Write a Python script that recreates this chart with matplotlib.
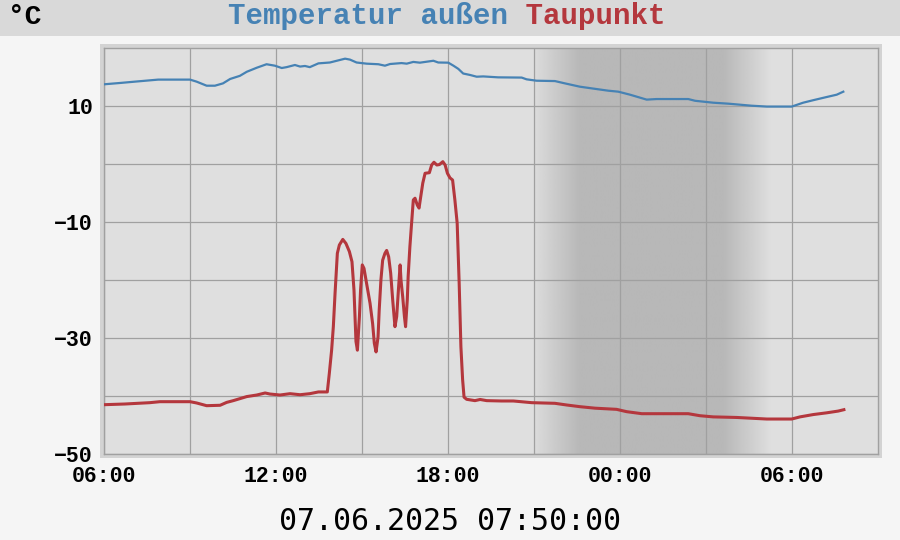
import numpy as np
import matplotlib
matplotlib.use('Agg')
import matplotlib.pyplot as plt
from matplotlib.patches import Rectangle

# Data (hours since 06:00 on 06.06.2025) #
temp_hours = [0.00, 0.56, 1.08, 1.89, 3.00, 3.23, 3.58, 3.87, 4.15, 4.40,
              4.74, 4.98, 5.33, 5.67, 5.96, 6.20, 6.37, 6.66, 6.84, 7.01,
              7.18, 7.48, 7.88, 8.12, 8.41, 8.58, 8.81, 9.16, 9.57, 9.80,
              9.98, 10.38, 10.56, 10.79, 11.02, 11.49, 11.66, 12.01, 12.19, 12.36,
              12.53, 12.77, 13.00, 13.23, 13.75, 14.57, 14.74, 15.09, 15.73, 16.08,
              16.60, 17.07, 17.59, 17.94, 18.35, 18.93, 19.28, 20.38, 20.62, 21.25,
              21.78, 22.59, 23.12, 23.99, 24.39, 24.74, 25.21, 25.56, 25.79]
temp_out = [13.74, 13.97, 14.2, 14.55, 14.55, 14.2, 13.5, 13.5, 13.9, 14.66,
            15.2, 15.9, 16.6, 17.2, 16.95, 16.55, 16.7, 17.07, 16.8, 16.9,
            16.7, 17.35, 17.5, 17.8, 18.16, 18.0, 17.5, 17.3, 17.2, 16.95,
            17.24, 17.4, 17.3, 17.6, 17.47, 17.8, 17.5, 17.47, 16.95, 16.4,
            15.6, 15.35, 15.05, 15.1, 14.94, 14.9, 14.6, 14.36, 14.3, 13.9,
            13.33, 13.0, 12.64, 12.47, 11.95, 11.1, 11.2, 11.2, 10.9, 10.57,
            10.4, 10.05, 9.9, 9.9, 10.57, 11.0, 11.55, 11.95, 12.47]

dew_hours = [0.00, 0.73, 1.60, 1.95, 3.00, 3.23, 3.58, 4.05, 4.28, 4.51,
             4.98, 5.33, 5.62, 5.79, 6.14, 6.49, 6.84, 7.18, 7.48, 7.79,
             7.86, 7.94, 8.00, 8.06, 8.14, 8.21, 8.33, 8.44, 8.56, 8.65,
             8.72, 8.79, 8.84, 8.91, 8.95, 9.01, 9.07, 9.16, 9.28, 9.37,
             9.43, 9.49, 9.56, 9.60, 9.66, 9.72, 9.80, 9.86, 9.93, 10.00,
             10.07, 10.15, 10.21, 10.27, 10.33, 10.36, 10.42, 10.48, 10.52, 10.58,
             10.61, 10.67, 10.73, 10.79, 10.85, 10.93, 10.99, 11.05, 11.12, 11.20,
             11.35, 11.43, 11.51, 11.61, 11.70, 11.82, 11.90, 11.98, 12.07, 12.16,
             12.24, 12.32, 12.39, 12.45, 12.51, 12.56,
             12.65, 12.94, 13.12, 13.35, 13.87, 14.28, 14.92, 15.73, 16.14, 16.60,
             17.13, 17.88, 18.23, 18.76, 20.38, 20.79, 21.25, 22.07, 23.12, 23.99,
             24.28, 24.74, 25.21, 25.61, 25.81]
dewpoint = [-41.5, -41.38, -41.15, -40.98, -40.98, -41.2, -41.67, -41.6, -41.1, -40.8,
            -40.1, -39.83, -39.48, -39.66, -39.83, -39.6, -39.78, -39.6, -39.3, -39.3,
            -36.1, -32.1, -28.05, -22.3, -15.4, -13.97, -13.0, -13.7, -15.1, -16.84,
            -21.7, -30.6, -32.1, -26.3, -21.7, -17.4, -18.0, -20.6, -24.0, -27.5,
            -30.9, -32.4, -29.8, -25.2, -20.0, -16.6, -15.4, -14.9, -16.0, -18.8,
            -23.4, -28.05, -26.3, -21.7, -17.4, -20.0, -22.9, -26.3, -28.05, -23.4,
            -19.4, -14.3, -10.2, -6.2, -5.9, -7.1, -7.6, -5.6, -3.3, -1.6,
            -1.5, -0.17, 0.3, -0.17, -0.1, 0.4, -0.17, -1.6, -2.4, -2.76,
            -6.2, -10.2, -20.6, -31.5, -37.2, -40.2,
            -40.57, -40.8, -40.6, -40.8, -40.86, -40.86, -41.15, -41.26, -41.55, -41.84,
            -42.1, -42.3, -42.7, -43.05, -43.05, -43.4, -43.6, -43.7, -43.97, -43.97,
            -43.6, -43.2, -42.9, -42.6, -42.36]

# Night shading (hours, gray level) #
shade_hours = [15.0, 16.6, 21.6, 23.3]
shade_gray = [0.86, 0.72, 0.72, 0.875]

xtick_labels = ['06:00', '', '12:00', '', '18:00', '', '00:00', '', '06:00']
ytick_labels = ['\u221250', '', '\u221230', '', '\u221210', '', '10']
title_left = 'Temperatur außen'
title_right = 'Taupunkt'
unit_label = '°C'
date_label = '07.06.2025 07:50:00'

# Colours #
c_temp = '#4682b4'
c_dew = '#b4373d'
c_grid = '#a0a0a0'

# Figure #
fig = plt.figure(figsize=(9, 5.4), dpi=100, facecolor='#f5f5f5')

# top band and plot rim (behind the axes)
fig.patches.append(Rectangle((0, 1 - 36 / 540.), 1, 36 / 540., transform=fig.transFigure,
                             facecolor='#d9d9d9', edgecolor='none', zorder=-2))
fig.patches.append(Rectangle((100 / 900., 1 - 458 / 540.), 782 / 900., 414 / 540.,
                             transform=fig.transFigure, facecolor='#d3d3d3',
                             edgecolor='none', zorder=-2))

ax = fig.add_axes([104 / 900., 1 - 454 / 540., 774 / 900., 406 / 540.])
ax.set_facecolor('#dfdfdf')

# night gradient
gx = np.linspace(shade_hours[0], shade_hours[-1], 300)
gv = np.interp(gx, shade_hours, shade_gray)
ax.imshow(gv[np.newaxis, :], extent=[shade_hours[0], shade_hours[-1], -50, 20],
          aspect='auto', cmap='gray', vmin=0, vmax=1, interpolation='bilinear', zorder=0.1)

ax.plot(temp_hours, temp_out, color=c_temp, lw=1.6, zorder=3)
ax.plot(dew_hours, dewpoint, color=c_dew, lw=2.2, zorder=3)

ax.set_xlim(0, 27)
ax.set_ylim(-50, 20)
ax.set_axisbelow(True)

ax.set_xticks(np.arange(0, 27, 3))
ax.set_xticklabels(xtick_labels)
ax.set_yticks(np.arange(-50, 20, 10))
ax.set_yticklabels(ytick_labels)
ax.tick_params(length=0, labelsize=15.5, pad=8)
ax.tick_params(axis='x', pad=9)
for lab in ax.get_xticklabels() + ax.get_yticklabels():
    lab.set_family('Liberation Mono')
    lab.set_fontweight('bold')
ax.grid(True, color=c_grid, lw=0.9)
for s in ax.spines.values():
    s.set_color(c_grid)
    s.set_linewidth(1.0)

# Title #
n = len(title_left) + 1 + len(title_right)
fig.text(447 / 900., 1 - 16 / 540., title_left.ljust(n), color=c_temp, ha='center', va='center',
         family='Liberation Mono', fontweight='bold', fontsize=21)
fig.text(447 / 900., 1 - 16 / 540., title_right.rjust(n), color=c_dew, ha='center', va='center',
         family='Liberation Mono', fontweight='bold', fontsize=21)
fig.text(8 / 900., 1 - 17 / 540., unit_label, color='black', ha='left', va='center',
         family='Liberation Mono', fontweight='bold', fontsize=20)
fig.text(450 / 900., 1 - 521 / 540., date_label, color='black', ha='center', va='center',
         family='DejaVu Sans Mono', fontsize=21.5)

fig.savefig('out.png', dpi=100, facecolor=fig.get_facecolor())
